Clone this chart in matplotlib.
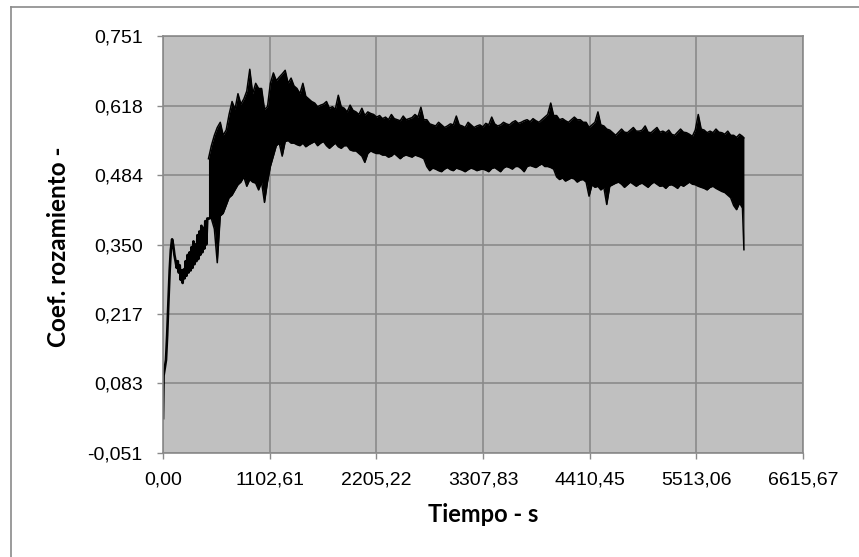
import matplotlib
matplotlib.use("Agg")
import matplotlib.pyplot as plt
from matplotlib.lines import Line2D
from matplotlib.ticker import FuncFormatter

# arranque del ensayo (tiempo en s, coeficiente de rozamiento)
start_time_s = [
    0, 6, 18, 31, 43, 56, 69, 81, 94, 106,
    118, 130, 142, 153, 163, 173, 183, 193, 203, 214,
    224, 234, 244, 254, 264, 275, 285, 295, 305, 315,
    325, 336, 346, 356, 366, 376, 386, 397, 407, 417,
    427, 437, 447, 458, 470,
]
start_coef = [
    0.016, 0.098, 0.112, 0.128, 0.175, 0.240, 0.300, 0.340, 0.360, 0.348,
    0.330, 0.318, 0.305, 0.318, 0.296, 0.310, 0.282, 0.300, 0.276, 0.302,
    0.285, 0.318, 0.290, 0.330, 0.296, 0.335, 0.300, 0.345, 0.305, 0.356,
    0.312, 0.350, 0.318, 0.368, 0.322, 0.375, 0.330, 0.386, 0.335, 0.382,
    0.342, 0.395, 0.350, 0.400, 0.400,
]

# resto del ensayo: maximo y minimo de la senal en cada instante
band_time_s = [
    470, 500, 531, 561, 592, 622, 653, 683, 714, 744,
    775, 805, 836, 866, 897, 927, 958, 988, 1019, 1049,
    1080, 1110, 1141, 1171, 1202, 1232, 1263, 1293, 1324, 1354,
    1385, 1415, 1446, 1476, 1507, 1537, 1568, 1598, 1629, 1659,
    1690, 1720, 1751, 1781, 1812, 1842, 1873, 1903, 1934, 1964,
    1995, 2025, 2056, 2086, 2117, 2147, 2178, 2208, 2239, 2269,
    2300, 2330, 2361, 2391, 2422, 2452, 2483, 2513, 2544, 2574,
    2605, 2635, 2666, 2696, 2727, 2757, 2788, 2818, 2849, 2879,
    2910, 2940, 2971, 3001, 3032, 3062, 3093, 3123, 3154, 3184,
    3215, 3245, 3276, 3306, 3337, 3367, 3398, 3428, 3459, 3489,
    3520, 3550, 3581, 3611, 3642, 3672, 3703, 3733, 3764, 3794,
    3825, 3855, 3886, 3916, 3947, 3977, 4008, 4038, 4069, 4099,
    4130, 4160, 4191, 4221, 4252, 4282, 4313, 4343, 4374, 4404,
    4435, 4465, 4496, 4526, 4557, 4587, 4618, 4648, 4679, 4709,
    4740, 4770, 4801, 4831, 4862, 4892, 4923, 4953, 4984, 5014,
    5045, 5075, 5106, 5136, 5167, 5197, 5228, 5258, 5289, 5319,
    5350, 5380, 5411, 5441, 5472, 5502, 5533, 5563, 5594, 5624,
    5655, 5685, 5716, 5746, 5777, 5807, 5838, 5868, 5899, 5929,
    5960, 5990, 6005,
]
coef_max = [
    0.515, 0.540, 0.560, 0.575, 0.585, 0.560, 0.570, 0.600, 0.625, 0.610,
    0.640, 0.620, 0.630, 0.645, 0.687, 0.640, 0.660, 0.650, 0.650, 0.610,
    0.615, 0.660, 0.680, 0.665, 0.672, 0.678, 0.685, 0.660, 0.670, 0.655,
    0.650, 0.640, 0.660, 0.635, 0.630, 0.625, 0.622, 0.615, 0.618, 0.620,
    0.625, 0.612, 0.615, 0.610, 0.637, 0.615, 0.612, 0.605, 0.618, 0.608,
    0.605, 0.600, 0.612, 0.598, 0.605, 0.602, 0.600, 0.595, 0.598, 0.592,
    0.595, 0.590, 0.600, 0.592, 0.590, 0.588, 0.597, 0.590, 0.592, 0.594,
    0.600, 0.595, 0.614, 0.590, 0.590, 0.582, 0.580, 0.578, 0.585, 0.580,
    0.575, 0.578, 0.582, 0.580, 0.597, 0.580, 0.578, 0.575, 0.585, 0.580,
    0.575, 0.578, 0.580, 0.576, 0.583, 0.580, 0.595, 0.582, 0.578, 0.580,
    0.585, 0.582, 0.580, 0.585, 0.588, 0.583, 0.585, 0.588, 0.590, 0.586,
    0.592, 0.588, 0.585, 0.590, 0.595, 0.600, 0.622, 0.598, 0.598, 0.590,
    0.592, 0.588, 0.585, 0.590, 0.595, 0.590, 0.590, 0.585, 0.585, 0.575,
    0.580, 0.585, 0.605, 0.580, 0.578, 0.572, 0.570, 0.565, 0.560, 0.566,
    0.572, 0.566, 0.565, 0.570, 0.575, 0.568, 0.568, 0.570, 0.578, 0.566,
    0.565, 0.570, 0.575, 0.566, 0.568, 0.565, 0.570, 0.562, 0.560, 0.566,
    0.572, 0.566, 0.565, 0.562, 0.558, 0.570, 0.600, 0.572, 0.570, 0.565,
    0.568, 0.565, 0.572, 0.566, 0.565, 0.562, 0.568, 0.560, 0.560, 0.556,
    0.562, 0.558, 0.555,
]
coef_min = [
    0.400, 0.400, 0.380, 0.315, 0.405, 0.410, 0.425, 0.440, 0.445, 0.455,
    0.465, 0.470, 0.480, 0.462, 0.475, 0.470, 0.468, 0.455, 0.470, 0.431,
    0.470, 0.500, 0.520, 0.540, 0.545, 0.520, 0.548, 0.550, 0.545, 0.545,
    0.542, 0.540, 0.545, 0.538, 0.542, 0.545, 0.548, 0.540, 0.545, 0.548,
    0.540, 0.535, 0.540, 0.545, 0.538, 0.535, 0.540, 0.540, 0.532, 0.530,
    0.530, 0.525, 0.520, 0.508, 0.525, 0.530, 0.527, 0.525, 0.525, 0.522,
    0.522, 0.518, 0.520, 0.525, 0.520, 0.515, 0.520, 0.522, 0.520, 0.518,
    0.522, 0.520, 0.518, 0.515, 0.500, 0.492, 0.497, 0.495, 0.492, 0.490,
    0.495, 0.498, 0.494, 0.492, 0.497, 0.495, 0.493, 0.490, 0.494, 0.497,
    0.495, 0.492, 0.494, 0.495, 0.493, 0.490, 0.496, 0.498, 0.494, 0.490,
    0.497, 0.500, 0.498, 0.495, 0.500, 0.500, 0.496, 0.490, 0.500, 0.502,
    0.500, 0.498, 0.502, 0.505, 0.500, 0.500, 0.498, 0.495, 0.480, 0.475,
    0.478, 0.472, 0.475, 0.478, 0.476, 0.470, 0.474, 0.475, 0.470, 0.443,
    0.465, 0.460, 0.462, 0.455, 0.460, 0.427, 0.462, 0.465, 0.468, 0.470,
    0.466, 0.460, 0.465, 0.470, 0.466, 0.462, 0.466, 0.468, 0.464, 0.460,
    0.466, 0.470, 0.466, 0.462, 0.463, 0.458, 0.464, 0.465, 0.462, 0.458,
    0.465, 0.462, 0.466, 0.470, 0.466, 0.465, 0.462, 0.460, 0.458, 0.455,
    0.460, 0.462, 0.458, 0.455, 0.452, 0.450, 0.445, 0.440, 0.425, 0.417,
    0.430, 0.420, 0.340,
]

x_ticks = [0.00, 1102.61, 2205.22, 3307.83, 4410.45, 5513.06, 6615.67]
y_ticks = [-0.051, 0.0827, 0.2163, 0.350, 0.4837, 0.6173, 0.751]
y_labels = ["-0,051", "0,083", "0,217", "0,350", "0,484", "0,618", "0,751"]

plt.rcParams['font.family'] = ['Liberation Sans', 'DejaVu Sans']

fig = plt.figure(figsize=(8.59, 5.57), dpi=100)
ax = fig.add_axes([163 / 859, 1 - 453 / 557, 640 / 859, 417 / 557])

ax.set_facecolor('#c0c0c0')
ax.plot(start_time_s, start_coef, color='black', linewidth=1.9)
ax.fill_between(band_time_s, coef_min, coef_max, color='black', linewidth=0)
ax.plot(band_time_s, coef_max, color='black', linewidth=1.1)
ax.plot(band_time_s, coef_min, color='black', linewidth=1.1)

ax.set_xlim(x_ticks[0], x_ticks[-1])
ax.set_ylim(y_ticks[0], y_ticks[-1])
ax.set_xticks(x_ticks)
ax.xaxis.set_major_formatter(FuncFormatter(lambda v, p: f"{v:.2f}".replace('.', ',')))
ax.set_yticks(y_ticks)
ax.set_yticklabels(y_labels)

ax.grid(True, color='#8a8a8a', linewidth=1.2)
ax.set_axisbelow(True)
for s in ax.spines.values():
    s.set_color('#8a8a8a')
    s.set_linewidth(1.2)

ax.tick_params(axis='both', direction='out', length=4.5, width=1, color='#8a8a8a',
               labelsize=14, labelcolor='black')
ax.tick_params(axis='y', pad=10)
ax.tick_params(axis='x', pad=9)

ax.set_xlabel("Tiempo - s", fontsize=17, fontweight='bold', family=['Lato', 'DejaVu Sans'],
              labelpad=10)
ax.set_ylabel("Coef. rozamiento -", fontsize=17.5, fontweight='bold',
              family=['Lato', 'DejaVu Sans'])
ax.yaxis.set_label_coords(-0.145, 0.494)

# marco del grafico (solo se ven los bordes izquierdo y superior)
fig.add_artist(Line2D([11 / 859, 11 / 859], [0, 1 - 7 / 557], transform=fig.transFigure,
                      color='#8a8a8a', linewidth=1.2))
fig.add_artist(Line2D([11 / 859, 1], [1 - 7 / 557, 1 - 7 / 557], transform=fig.transFigure,
                      color='#8a8a8a', linewidth=1.2))

fig.savefig('out.png', dpi=100)
